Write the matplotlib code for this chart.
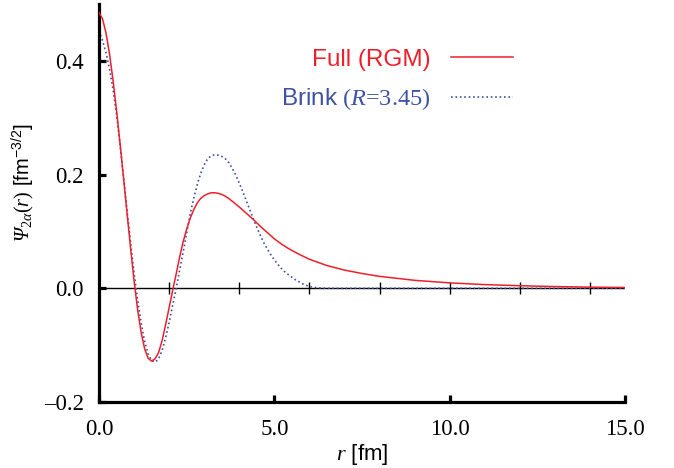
import numpy as np
import matplotlib
matplotlib.use('Agg')
import matplotlib.pyplot as plt

plt.rcParams['mathtext.fontset'] = 'custom'
plt.rcParams['mathtext.rm'] = 'Liberation Serif'
plt.rcParams['mathtext.it'] = 'Liberation Serif:italic'
plt.rcParams['mathtext.cal'] = 'Liberation Serif:italic'
plt.rcParams['mathtext.sf'] = 'Liberation Sans'
plt.rcParams['mathtext.bf'] = 'Liberation Serif:bold'

# Full (RGM) wave function
r_full = [0.0, 0.1, 0.2, 0.3, 0.4, 0.5, 0.6, 0.7, 0.8, 0.9, 1.0, 1.1, 1.2, 1.3,
          1.4, 1.5, 1.6, 1.7, 1.8, 1.9, 2.0, 2.1, 2.2, 2.3, 2.4, 2.5, 2.6, 2.7,
          2.8, 2.9, 3.0, 3.1, 3.2, 3.3, 3.4, 3.5, 3.6, 3.7, 3.8, 3.9, 4.0, 4.2,
          4.4, 4.6, 4.8, 5.0, 5.2, 5.4, 5.7, 6.0, 6.5, 7.0, 7.5, 8.0, 9.0, 10.0,
          11.0, 12.0, 13.0, 14.0, 15.0]
psi_full = [0.485, 0.474, 0.449, 0.412, 0.366, 0.313, 0.255, 0.194, 0.132, 0.071,
            0.013, -0.037, -0.077, -0.106, -0.123, -0.128, -0.124, -0.113, -0.092,
            -0.064, -0.034, -0.004, 0.025, 0.055, 0.082, 0.104, 0.123, 0.138,
            0.150, 0.158, 0.163, 0.166, 0.168, 0.168, 0.167, 0.165, 0.162, 0.158,
            0.153, 0.148, 0.143, 0.132, 0.121, 0.109, 0.098, 0.087, 0.078, 0.070,
            0.060, 0.051, 0.040, 0.032, 0.026, 0.021, 0.014, 0.0095, 0.0065,
            0.0045, 0.003, 0.002, 0.0014]

# Brink wave function (R = 3.45)
r_brink = [0.0, 0.1, 0.2, 0.3, 0.4, 0.5, 0.6, 0.7, 0.8, 0.9, 1.0, 1.1, 1.2, 1.3,
           1.4, 1.5, 1.6, 1.7, 1.8, 1.9, 2.0, 2.1, 2.2, 2.3, 2.4, 2.5, 2.6, 2.7,
           2.8, 2.9, 3.0, 3.1, 3.2, 3.3, 3.4, 3.5, 3.6, 3.7, 3.8, 3.9, 4.0, 4.1,
           4.2, 4.3, 4.4, 4.5, 4.6, 4.7, 4.8, 4.9, 5.0, 5.1, 5.2, 5.3, 5.4, 5.6,
           5.8, 6.0, 6.2, 6.5, 8.0, 10.0, 12.0, 15.0]
psi_brink = [0.453, 0.436, 0.414, 0.386, 0.35, 0.305, 0.252, 0.195, 0.137, 0.08,
             0.027, -0.02, -0.06, -0.093, -0.115, -0.127, -0.13, -0.124, -0.109,
             -0.087, -0.06, -0.03, 0.0, 0.032, 0.064, 0.097, 0.13, 0.158, 0.182,
             0.202, 0.217, 0.228, 0.233, 0.235, 0.234, 0.232, 0.228, 0.221, 0.211,
             0.199, 0.185, 0.17, 0.154, 0.138, 0.122, 0.107, 0.093, 0.08, 0.069,
             0.059, 0.05, 0.042, 0.035, 0.029, 0.024, 0.015, 0.008, 0.003, 0.001,
             0.0, 0.0, 0.0, 0.0, 0.0]

x_ticks = [0, 5, 10, 15]
x_labels = ['0.0', '5.0', '10.0', '15.0']
y_ticks = [-0.2, 0.0, 0.2, 0.4]
y_labels = ['\u20130.2', '0.0', '0.2', '0.4']
zero_ticks = [2, 4, 6, 8, 10, 12, 14]

red = '#ee1f2b'
blue = '#3d52a3'

fig = plt.figure(figsize=(6.74, 4.68), dpi=100)
ax = fig.add_axes([99 / 674, 1 - 402 / 468, 526 / 674, 398 / 468])

# zero line with its small ticks
ax.axhline(0, color='black', lw=1.0, zorder=1)
ax.plot(zero_ticks, [0] * len(zero_ticks), ls='none', marker='|', ms=8,
        mew=1.0, color='black', zorder=1)

ax.plot(r_full, psi_full, color=red, lw=1.1, label='Full (RGM)', zorder=3)
ax.plot(r_brink, psi_brink, color=blue, lw=1.2, ls=':',
        label=r'$\mathsf{Brink}$ ($R$=3.45)', zorder=2)

ax.set_xlim(0, 15)
ax.set_ylim(-0.2, 0.5)

for s in ['top', 'right']:
    ax.spines[s].set_visible(False)
for s in ['left', 'bottom']:
    ax.spines[s].set_linewidth(2.3)

ax.set_xticks(x_ticks)
ax.set_xticklabels(x_labels, fontfamily='Liberation Serif', fontsize=16.5)
ax.set_yticks(y_ticks)
ax.set_yticklabels(y_labels, fontfamily='Liberation Serif', fontsize=16.5)
ax.tick_params(direction='in', length=5, width=2.3, pad=11)
ax.tick_params(axis='x', pad=12)

ax.set_xlabel(r'$r$ [fm]', fontfamily='Liberation Sans', fontsize=16, labelpad=2)
ax.set_ylabel(r'$\mathcal{\Psi}_{2\alpha}(r)$ [fm$^{\mathsf{-3/2}}$]',
              fontfamily='Liberation Sans', fontsize=14.5)
ax.yaxis.set_label_coords(-0.12, 0.55)

leg = ax.legend(loc='center right', bbox_to_anchor=((513 - 99) / 526, (402 - 80.5) / 398),
                frameon=False, markerfirst=False, handlelength=2.55,
                handletextpad=0.85, labelspacing=0.65, borderpad=0, borderaxespad=0,
                prop={'family': 'Liberation Sans', 'size': 17.5})
texts = leg.get_texts()
texts[0].set_color(red)
texts[1].set_color(blue)
texts[1].set_fontfamily('Liberation Serif')

fig.savefig('out.png', dpi=100)
